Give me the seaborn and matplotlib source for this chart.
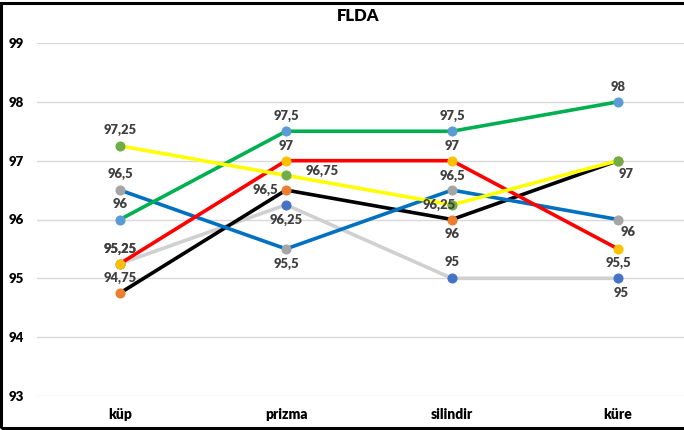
import matplotlib
matplotlib.use("Agg")
import matplotlib.pyplot as plt
import seaborn as sns
import pandas as pd
from matplotlib.patches import Rectangle

categories = ["küp", "prizma", "silindir", "küre"]
s_green = [96, 97.5, 97.5, 98]
s_blue = [96.5, 95.5, 96.5, 96]
s_yellow = [97.25, 96.75, 96.25, 97]
s_red = [95.25, 97, 97, 95.5]
s_black = [94.75, 96.5, 96, 97]
s_gray = [95.25, 96.25, 95, 95]

series = [
    # values, line colour, marker colour, label offsets (px) per point
    (s_gray, "#D0D0D0", "#4472C4", [(0, 15), (0, -15), (0, 16), (3, -15)]),
    (s_black, "#000000", "#ED7D31", [(0, 15), (-21, 0), (0, -14), (0, 0)]),
    (s_blue, "#0070C0", "#A5A5A5", [(0, 16), (0, -15), (0, 14), (10, -13)]),
    (s_green, "#00B050", "#5B9BD5", [(0, 15), (0, 15), (0, 15), (0, 15)]),
    (s_red, "#FF0000", "#FFC000", [(0, 15), (0, 15), (0, 15), (0, -14)]),
    (s_yellow, "#FFFF00", "#70AD47", [(0, 16), (36, 4), (-13, 0), (8, -13)]),
]

sns.set_theme(style="white")
plt.rcParams["font.family"] = ["Lato", "DejaVu Sans"]

W, H = 684, 430
fig = plt.figure(figsize=(W / 100, H / 100), dpi=100)
ax = fig.add_axes([37 / W, (H - 396) / H, 664 / W, (396 - 43) / H])

label_color = "#404040"
for z, (vals, lc, mc, offs) in enumerate(series):
    df = pd.DataFrame({"cat": categories, "val": vals})
    sns.lineplot(data=df, x="cat", y="val", ax=ax, color=lc, linewidth=2.6,
                 marker="o", markersize=6.5, markerfacecolor=mc,
                 markeredgecolor=mc, zorder=3 + z, sort=False)
    for i, (v, (dx, dy)) in enumerate(zip(vals, offs)):
        if (dx, dy) == (0, 0):
            continue
        txt = f"{v:g}".replace(".", ",")
        ax.annotate(txt, (i, v), xytext=(dx * 0.72, dy * 0.72),
                    textcoords="offset points", ha="center", va="center",
                    fontsize=9.4, fontweight="heavy", color=label_color,
                    zorder=20)

ax.set_xlim(-0.5, 3.5)
ax.set_ylim(93, 99)
ax.set_yticks(range(93, 100))
ax.set_xlabel("")
ax.set_ylabel("")
ax.grid(axis="y", color="#D9D9D9", linewidth=1)
ax.grid(axis="x", visible=False)
for sp in ax.spines.values():
    sp.set_visible(False)
ax.tick_params(axis="y", length=0, pad=9.5, labelsize=9.5, labelcolor="#000000")
ax.tick_params(axis="x", length=0, pad=8.5, labelsize=10, labelcolor="#000000")
for t in ax.get_yticklabels() + ax.get_xticklabels():
    t.set_fontweight("heavy")

fig.text(358 / W, 1 - 16 / H, "FLDA", ha="center", va="center",
         fontsize=12, fontweight="heavy", color="#000000")

fig.patches.append(Rectangle((1 / W, 2 / H), 1.1, 1 - 4.5 / H,
                             transform=fig.transFigure, fill=False,
                             edgecolor="#000000", linewidth=2.2))

fig.savefig("out.png", dpi=100)
